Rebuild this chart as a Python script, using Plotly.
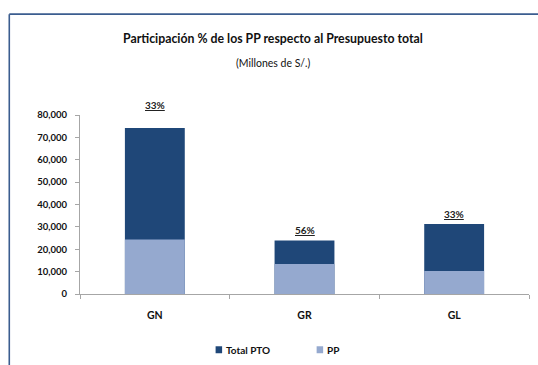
import plotly.graph_objects as go

# Presupuesto total (PTO) y programas presupuestales (PP), millones de S/.
niveles = ["GN", "GR", "GL"]
total_pto = [74200, 23900, 31300]
pp = [24400, 13400, 10300]
yticks = [0, 10000, 20000, 30000, 40000, 50000, 60000, 70000, 80000]
series_names = ["Total PTO", "PP"]

DARK = "#1f4778"
LIGHT = "#95a9cf"
FONT = "Lato, Roboto, sans-serif"
AXIS = "#a6a6a6"
INK = "#111111"

fig = go.Figure()
fig.add_trace(go.Bar(x=niveles, y=total_pto, name=series_names[0],
                     marker=dict(color=DARK, line=dict(width=0)), width=0.4))
fig.add_trace(go.Bar(x=niveles, y=pp, name=series_names[1],
                     marker=dict(color=LIGHT, line=dict(width=0)), width=0.4))

# share of PP in each total, shown above the bars
label_lift = [15, 3, 2]
for cat, tot, p, lift in zip(niveles, total_pto, pp, label_lift):
    fig.add_annotation(x=cat, y=tot, text=f"<u>{round(100 * p / tot)}%</u>",
                       showarrow=False, yanchor="bottom", yshift=lift,
                       font=dict(family=FONT, size=10, color="#222222", weight="bold"))

# title block
fig.add_annotation(xref="paper", yref="paper", x=0.43, y=1.425,
                   text="<b>Participación % de los PP respecto al Presupuesto total</b>",
                   showarrow=False, xanchor="center", yanchor="middle",
                   font=dict(family=FONT, size=12.3, color=INK))
fig.add_annotation(xref="paper", yref="paper", x=0.43, y=1.293,
                   text="(Millones de S/.)", showarrow=False,
                   xanchor="center", yanchor="middle",
                   font=dict(family=FONT, size=10.5, color=INK))

# legend keys below the axis
legend_x = [0.302, 0.527]
for name, color, lx in zip(series_names, [DARK, LIGHT], legend_x):
    fig.add_shape(type="rect", xref="paper", yref="paper",
                  x0=lx, x1=lx + 0.0145, y0=-0.331, y1=-0.292,
                  fillcolor=color, line=dict(width=0))
    fig.add_annotation(xref="paper", yref="paper", x=lx + 0.019, y=-0.311,
                       text=f"<b>{name}</b>", showarrow=False,
                       xanchor="left", yanchor="middle",
                       font=dict(family=FONT, size=10, color=INK))

# chart frame (top and left edges)
fig.add_shape(type="line", xref="paper", yref="paper",
              x0=-0.1575, y0=-0.5, x1=-0.1575, y1=1.5635,
              line=dict(color="#3b5d8f", width=1.6))
fig.add_shape(type="line", xref="paper", yref="paper",
              x0=-0.1575, y0=1.5635, x1=1.1, y1=1.5635,
              line=dict(color="#3b5d8f", width=1.6))

fig.update_layout(
    width=538, height=365,
    margin=dict(l=80, r=9, t=115, b=71),
    barmode="overlay", bargap=0.6,
    plot_bgcolor="white", paper_bgcolor="white",
    showlegend=False,
    xaxis=dict(type="category", showline=True, linecolor=AXIS, linewidth=1.3,
               ticks="outside", tickson="boundaries", ticklen=4, tickcolor=AXIS,
               ticklabelstandoff=11,
               tickfont=dict(family=FONT, size=10.5, color=INK, weight="bold"),
               range=[-0.5, 2.5], showgrid=False),
    yaxis=dict(range=[0, 80000], tickvals=yticks, tickformat=",",
               showline=True, linecolor=AXIS, linewidth=1.3,
               ticks="outside", ticklen=4, tickcolor=AXIS, ticklabelstandoff=6,
               tickfont=dict(family=FONT, size=9.5, color=INK, weight="bold"),
               showgrid=False, zeroline=False),
)

fig.write_html("out.html")
